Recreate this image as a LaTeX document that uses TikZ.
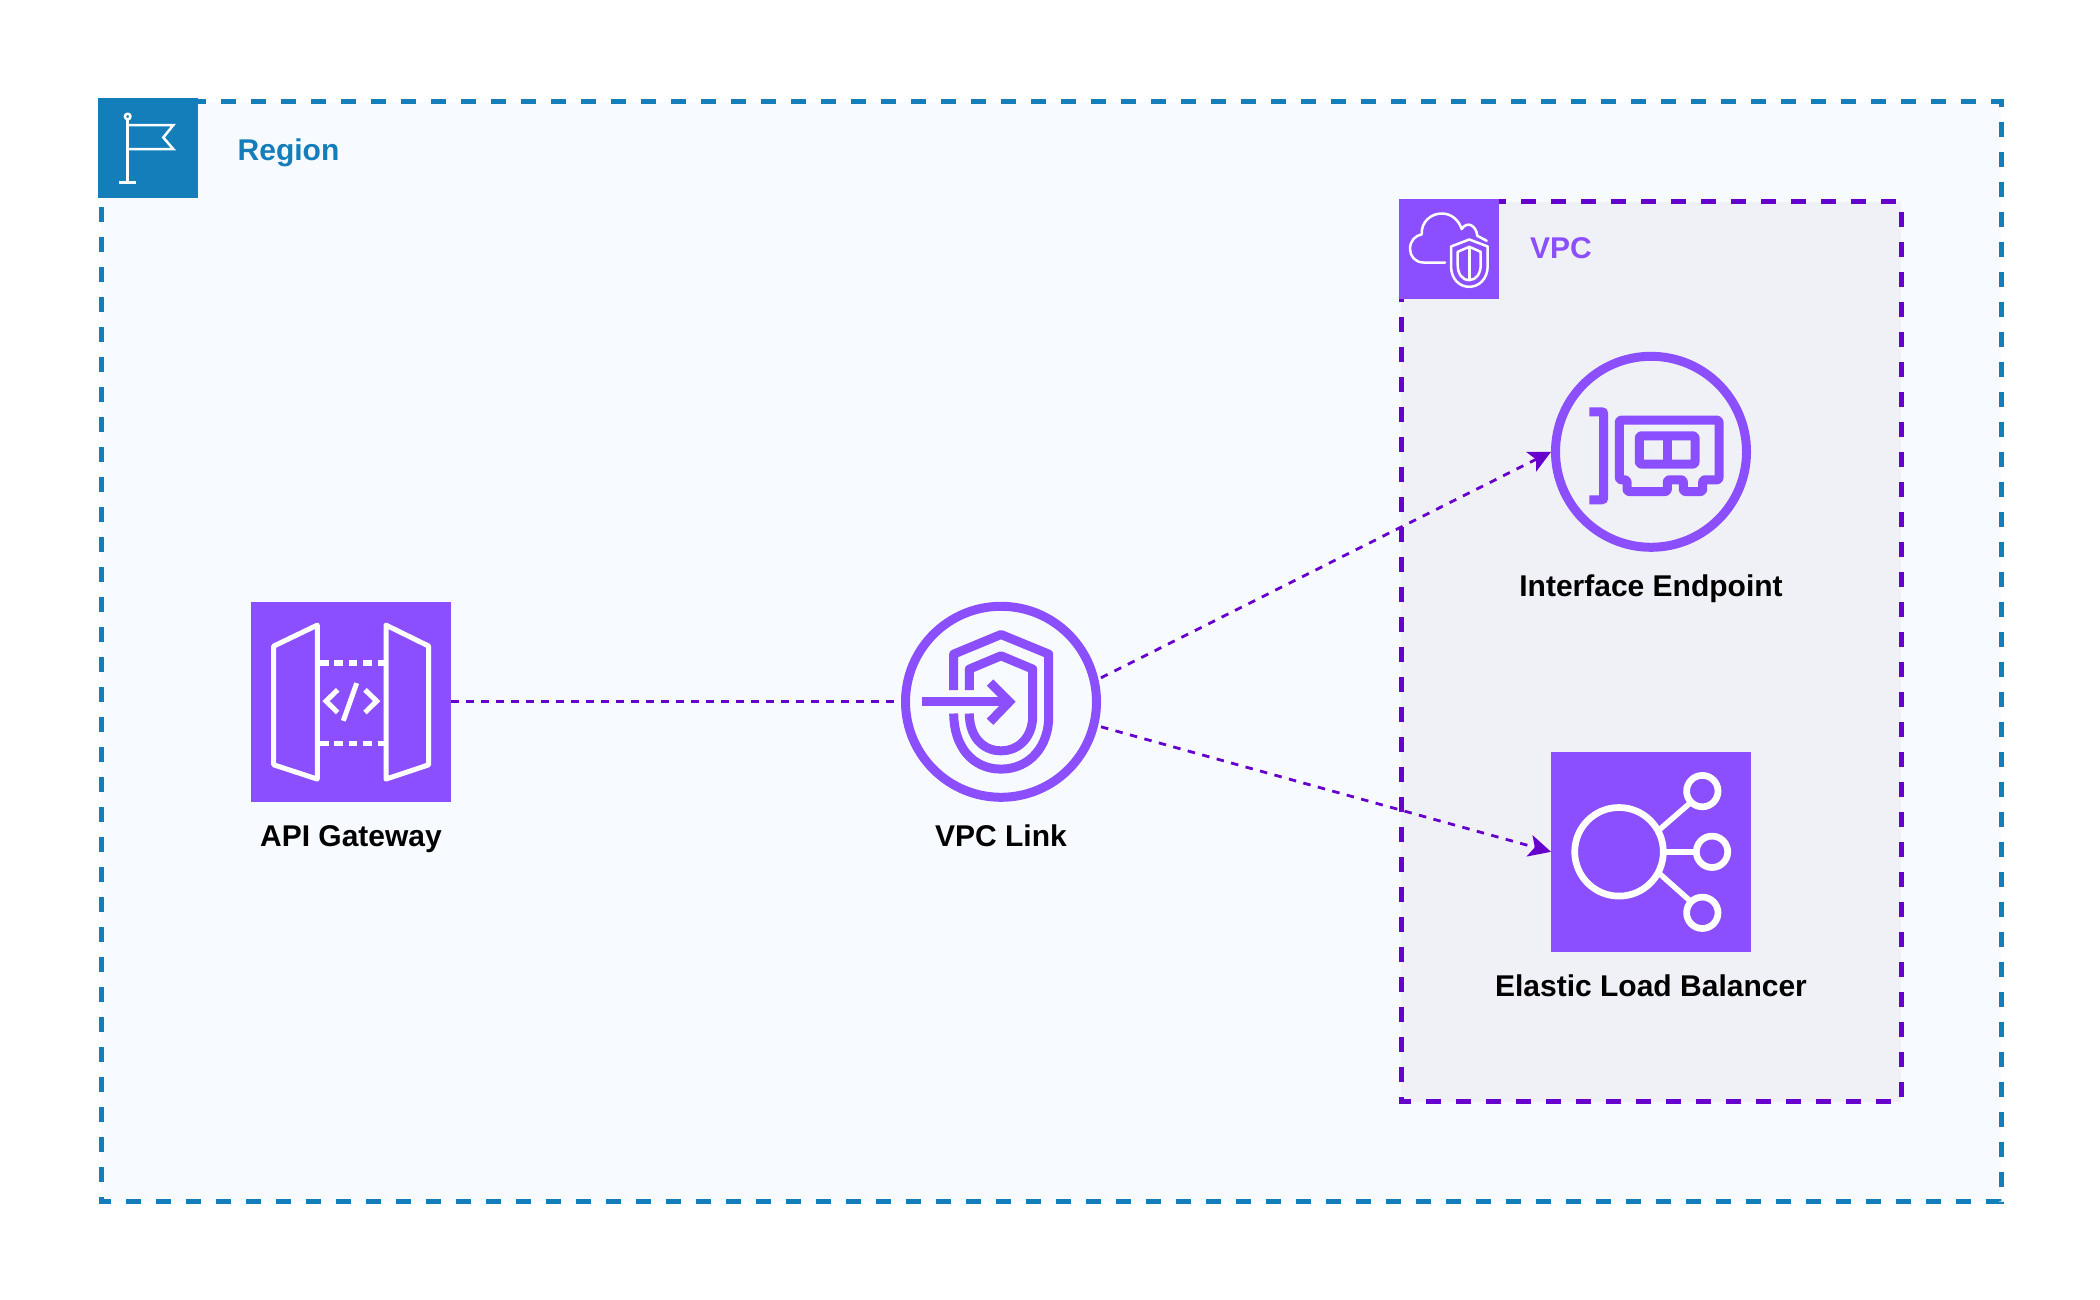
\documentclass[tikz,border=0pt]{standalone}
\usepackage{fontspec}
\setmainfont{Liberation Sans}
\usetikzlibrary{arrows.meta}
\definecolor{awspurple}{HTML}{8C4FFF}
\definecolor{linkpurple}{HTML}{6600CC}
\definecolor{awsblue}{HTML}{147EBA}
\definecolor{regionfill}{HTML}{F7FBFF}
\definecolor{vpcfill}{HTML}{F0F1F7}
\tikzset{
  frameline/.style={line width=5pt,dash pattern=on 15pt off 15pt,line cap=butt,line join=miter},
  iconbox/.style={rectangle,fill=#1,inner sep=0pt,outer sep=0pt},
  ringicon/.style={circle,draw=awspurple,line width=9pt,minimum size=191pt,inner sep=0pt},
  caption/.style={anchor=base,inner sep=0pt,font=\fontsize{30}{36}\selectfont\bfseries,text=black},
  grouplabel/.style={anchor=base west,inner sep=0pt,font=\fontsize{30}{36}\selectfont\bfseries,text=#1},
  link/.style={linkpurple,line width=2.8pt,dash pattern=on 7.5pt off 7.5pt},
  linkarrow/.style={link,-{Stealth[length=22.4pt,width=22.4pt,inset=5.6pt,line width=0pt]}},
  glyph/.style={draw=white,line width=#1,line join=round,fill=none},
  ringglyph/.style={draw=awspurple,line width=9pt,fill=none}
}
\begin{document}
\begin{tikzpicture}[x=1pt,y=-1pt]
\useasboundingbox (0,-0.8) rectangle (2100,1299.2);
% groups
\draw[frameline,draw=awsblue,fill=regionfill] (101,101) -- (2001,101) -- (2001,1201) -- (101,1201) -- cycle;
\draw[frameline,draw=linkpurple,fill=vpcfill] (1401,201) -- (1901,201) -- (1901,1101) -- (1401,1101) -- cycle;
% group icons
\node[iconbox=awsblue,minimum size=100pt] (regionicon) at (147.5,147.5) {};
\node[iconbox=awspurple,minimum size=100pt] (vpcicon) at (1448.5,248.5) {};
\node[grouplabel=awsblue] (regionlabel) at (237.5,160) {Region};
\node[grouplabel=awspurple] (vpclabel) at (1530,258) {VPC};
% flag
\draw[glyph=2.5pt] (127.7,119.7) -- (127.7,181.7);
\draw[glyph=2.5pt] (127.7,115.7) circle (2.8);
\draw[glyph=2.5pt] (119.3,181.7) -- (136,181.7);
\draw[glyph=2.5pt,line join=miter] (127.7,124.3) -- (173.3,124.3) -- (163.3,136.7) -- (173.3,148.3) -- (127.7,148.3);
% cloud + shield
\draw[glyph=2.5pt,line cap=round] (1445,261.7) -- (1423.3,261.7)
  .. controls (1415,261.7) and (1410,255) .. (1410,248.3)
  .. controls (1410,240) and (1415,235) .. (1421.7,233.5)
  .. controls (1421,221) and (1431,212.7) .. (1441.7,212.7)
  .. controls (1452,212.7) and (1459,220) .. (1461.7,228.3)
  .. controls (1467,220) and (1476,224) .. (1477.3,235)
  -- (1486.7,240);
\draw[glyph=2.5pt] (1451,245.7) -- (1469.3,238.7) -- (1487.7,245.7) -- (1487.7,265)
  .. controls (1487.7,278) and (1479,286) .. (1469.3,286)
  .. controls (1459,286) and (1451,278) .. (1451,265) -- cycle;
\draw[glyph=2.5pt] (1457.7,251) -- (1469.3,246) -- (1480.7,251) -- (1480.7,264)
  .. controls (1480.7,273) and (1476,279.3) .. (1469.3,279.3)
  .. controls (1462,279.3) and (1457.7,273) .. (1457.7,264) -- cycle;
\draw[glyph=2.5pt] (1469.3,246) -- (1469.3,279.3);
% service icons
\node[iconbox=awspurple,minimum size=200pt] (gateway) at (351,701) {};
\node[ringicon] (vpclink) at (1001,701) {};
\node[ringicon] (endpoint) at (1651,451) {};
\node[iconbox=awspurple,minimum size=200pt] (elb) at (1651,851) {};
% captions
\node[caption] (gatewaylabel) at (351,845.2) {API Gateway};
\node[caption] (vpclinklabel) at (1001,845.2) {VPC Link};
\node[caption] (endpointlabel) at (1651,595.2) {Interface Endpoint};
\node[caption] (elblabel) at (1651,995.8) {Elastic Load Balancer};
% connectors
\coordinate (linkoutup) at (1101,677);
\coordinate (linkoutdown) at (1101,726);
\draw[link] (gateway.east) -- (vpclink.west);
\draw[linkarrow] (linkoutup) -- (endpoint.west);
\draw[linkarrow] (linkoutdown) -- (elb.west);
% API gateway glyph
\draw[glyph=5pt] (273.7,645.3) -- (317.3,624.3) -- (317.3,778.3) -- (273.7,764) -- cycle;
\draw[glyph=5pt] (428.7,645.3) -- (386,624.3) -- (386,778.3) -- (428.7,764) -- cycle;
\draw[glyph=5.5pt,dash pattern=on 8.6pt off 5.8pt] (320,662.3) -- (386,662.3);
\draw[glyph=5.5pt,dash pattern=on 8.6pt off 5.8pt] (320,742.7) -- (386,742.7);
\draw[glyph=5pt,line join=miter] (337.7,689) -- (326,700.3) -- (337.7,711.7);
\draw[glyph=5pt,line join=miter] (365,689) -- (376.7,700.3) -- (365,711.7);
\draw[glyph=5pt] (356.7,682.3) -- (343.3,720);
% VPC link glyph
\draw[ringglyph,line join=round] (953.7,689.3) -- (953.7,653.3) -- (1001,633.7) -- (1048.7,653.3) -- (1048.7,716)
  .. controls (1048.7,745) and (1030,768.3) .. (1001,768.3)
  .. controls (972,768.3) and (953.7,745) .. (953.7,712.7);
\draw[ringglyph,line join=round] (969.3,689.3) -- (969.3,668.3) -- (1001,655) -- (1032.7,668.3) -- (1032.7,715)
  .. controls (1032.7,735) and (1020,750) .. (1001,750)
  .. controls (982,750) and (969.3,735) .. (969.3,712.7);
\draw[ringglyph] (921.7,701) -- (1008,701);
\draw[ringglyph,line join=miter] (990,681.7) -- (1009.3,701) -- (990,721);
% endpoint glyph
\draw[ringglyph,rounded corners=2pt] (1589.3,411) -- (1603.7,411) -- (1603.7,499) -- (1589.3,499);
\draw[ringglyph,rounded corners=2pt,line join=round] (1619.3,419.3) -- (1719,419.3) -- (1719,479) -- (1702.7,479) -- (1702.7,490.7) -- (1683.3,490.7) -- (1683.3,479) -- (1667.3,479) -- (1667.3,490.7) -- (1627,490.7) -- (1627,479) -- (1619.3,479) -- cycle;
\draw[ringglyph,rounded corners=2pt,line join=round] (1639.3,435) rectangle (1695,463.3);
\draw[ringglyph] (1667.3,435) -- (1667.3,463.3);
% load balancer glyph
\draw[glyph=6.7pt] (1619,851) circle (44.3);
\draw[glyph=6.7pt] (1702.3,790.3) circle (15.7);
\draw[glyph=6.7pt] (1712,851) circle (15.7);
\draw[glyph=6.7pt] (1702.3,912) circle (15.7);
\draw[glyph=5.5pt] (1660,828.3) -- (1690,802.3);
\draw[glyph=5.5pt] (1665,851) -- (1694,851);
\draw[glyph=5.5pt] (1660,873.3) -- (1690,900);
\end{tikzpicture}
\end{document}
